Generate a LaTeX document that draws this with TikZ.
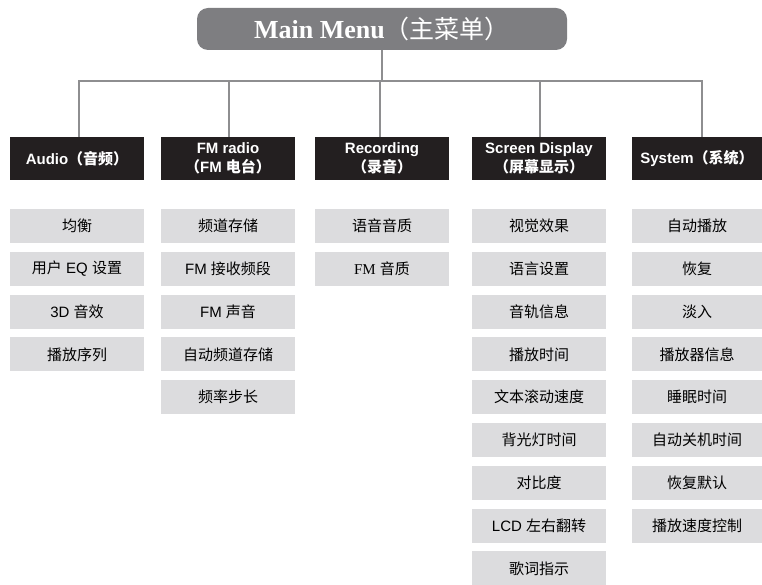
\documentclass[tikz,border=0pt]{standalone}
\usepackage{fontspec}
\setmainfont{Liberation Sans}
\newfontfamily\serif{Liberation Serif}
\newfontfamily\cjk{Noto Sans CJK SC}
\usepackage{xcolor}
\usepackage{tikz}
\definecolor{menugray}{HTML}{7E7E81}
\definecolor{catblack}{HTML}{231F20}
\definecolor{itemgray}{HTML}{DCDCDE}
\definecolor{linegray}{HTML}{8E8E90}

\begin{document}
\begin{tikzpicture}[x=1pt, y=-1pt,
  menubox/.style={fill=menugray, rounded corners=11pt, minimum width=370pt,
    minimum height=42pt, inner sep=0pt, text=white},
  catbox/.style={fill=catblack, text=white, minimum width=134pt,
    minimum height=43pt, inner sep=0pt, align=center,
    font=\bfseries\fontsize{15}{19}\selectfont},
  itembox/.style={fill=itemgray, minimum width=134pt, minimum height=34pt,
    inner sep=0pt, font=\fontsize{15}{18}\selectfont},
  link/.style={draw=linegray, line width=2pt}]
  \useasboundingbox (0,0) rectangle (762,585);
  \node[menubox] (menu) at (382,29) {\serif\bfseries\fontsize{26}{28}\selectfont
    Main Menu\cjk\mdseries\fontsize{25}{28}\selectfont（主菜单）};
  \coordinate (bar) at (382,81);
  \node[catbox] (audio) at (77,158.5) {Audio{\cjk （音频）}};
  \node[catbox] (fm) at (228,158.5) {FM radio\\{\cjk （}FM {\cjk 电台）}};
  \node[catbox] (rec) at (382,158.5) {Recording\\{\cjk （录音）}};
  \node[catbox] (disp) at (539,158.5) {Screen Display\\{\cjk （屏幕显示）}};
  \node[catbox, minimum width=130pt] (sys) at (697,158.5) {System{\cjk （系统）}};
  \draw[link] (menu.south) -- (bar);
  \draw[link] ([xshift=2pt]audio.north) |- (bar);
  \draw[link] ([xshift=1pt]fm.north) |- (bar);
  \draw[link] ([xshift=-2pt]rec.north) |- (bar);
  \draw[link] ([xshift=1pt]disp.north) |- (bar);
  \draw[link] ([xshift=5pt]sys.north) |- (bar);
  % Audio
  \node[itembox] (a1) at (77,226) {\cjk 均衡};
  \node[itembox] (a2) at (77,268.8) {{\cjk 用户} EQ {\cjk 设置}};
  \node[itembox] (a3) at (77,311.6) {3D {\cjk 音效}};
  \node[itembox] (a4) at (77,354.4) {\cjk 播放序列};
  % FM radio
  \node[itembox] (f1) at (228,226) {\cjk 频道存储};
  \node[itembox] (f2) at (228,268.8) {FM {\cjk 接收频段}};
  \node[itembox] (f3) at (228,311.6) {FM {\cjk 声音}};
  \node[itembox] (f4) at (228,354.4) {\cjk 自动频道存储};
  \node[itembox] (f5) at (228,397.2) {\cjk 频率步长};
  % Recording
  \node[itembox] (r1) at (382,226) {\cjk 语音音质};
  \node[itembox] (r2) at (382,268.8) {{\serif FM} {\cjk 音质}};
  % Screen Display
  \node[itembox] (d1) at (539,226) {\cjk 视觉效果};
  \node[itembox] (d2) at (539,268.8) {\cjk 语言设置};
  \node[itembox] (d3) at (539,311.6) {\cjk 音轨信息};
  \node[itembox] (d4) at (539,354.4) {\cjk 播放时间};
  \node[itembox] (d5) at (539,397.2) {\cjk 文本滚动速度};
  \node[itembox] (d6) at (539,440) {\cjk 背光灯时间};
  \node[itembox] (d7) at (539,482.8) {\cjk 对比度};
  \node[itembox] (d8) at (539,525.6) {LCD {\cjk 左右翻转}};
  \node[itembox] (d9) at (539,568.4) {\cjk 歌词指示};
  % System
  \node[itembox, minimum width=130pt] (s1) at (697,226) {\cjk 自动播放};
  \node[itembox, minimum width=130pt] (s2) at (697,268.8) {\cjk 恢复};
  \node[itembox, minimum width=130pt] (s3) at (697,311.6) {\cjk 淡入};
  \node[itembox, minimum width=130pt] (s4) at (697,354.4) {\cjk 播放器信息};
  \node[itembox, minimum width=130pt] (s5) at (697,397.2) {\cjk 睡眠时间};
  \node[itembox, minimum width=130pt] (s6) at (697,440) {\cjk 自动关机时间};
  \node[itembox, minimum width=130pt] (s7) at (697,482.8) {\cjk 恢复默认};
  \node[itembox, minimum width=130pt] (s8) at (697,525.6) {\cjk 播放速度控制};
\end{tikzpicture}
\end{document}
